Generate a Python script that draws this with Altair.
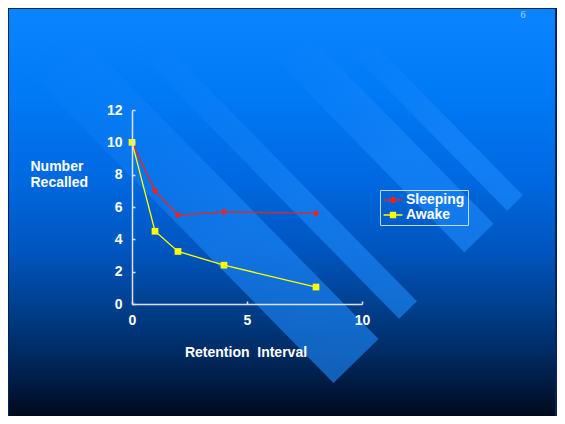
import altair as alt
import pandas as pd

# ---- data ----
intervals = [0, 1, 2, 4, 8]
sleeping = [10.0, 7.0, 5.5, 5.7, 5.6]
awake = [10.0, 4.5, 3.25, 2.4, 1.05]
series_names = ["Sleeping", "Awake"]
series_colors = ["#E8261E", "#FFFF00"]
series_shapes = ["diamond", "square"]
x_ticks = [0, 5, 10]
y_ticks = [0, 2, 4, 6, 8, 10, 12]
x_title = "Retention\u00a0 Interval"
y_title = ["Number", "Recalled"]
page_number = ["6"]

df = pd.DataFrame({
    "interval": intervals + intervals,
    "recalled": sleeping + awake,
    "series": [series_names[0]] * len(intervals) + [series_names[1]] * len(intervals),
})
dummy = pd.DataFrame({"k": [0]})

# ---- layout ----
W, H = 230, 194
PAD = {"left": 124, "top": 102, "right": 195, "bottom": 112}
OX, OY = 8 + PAD["left"], 8 + PAD["top"]  # page position of plot origin

FONT = "Liberation Sans"
AXIS_COLOR = "#DCE3EE"

bg_gradient = alt.Gradient(
    gradient="linear", x1=0, y1=0, x2=0, y2=1,
    stops=[
        alt.GradientStop(offset=0.0, color="#0A84FF"),
        alt.GradientStop(offset=0.22, color="#0079F5"),
        alt.GradientStop(offset=0.42, color="#0068E0"),
        alt.GradientStop(offset=0.59, color="#0055BE"),
        alt.GradientStop(offset=0.72, color="#00408F"),
        alt.GradientStop(offset=0.84, color="#002A62"),
        alt.GradientStop(offset=0.96, color="#00102C"),
        alt.GradientStop(offset=1.0, color="#000818"),
    ],
)

bg = alt.Chart(dummy).mark_rect(
    fill=bg_gradient, stroke="#06245A", strokeWidth=2
).encode(
    x=alt.value(-PAD["left"]), x2=alt.value(W + PAD["right"] - 1),
    y=alt.value(-PAD["top"]), y2=alt.value(H + PAD["bottom"] + 4),
)

# decorative diagonal stripes (page coordinates start, end, width)
stripe_specs = [
    ((41, 40), (356, 361), 63),
    ((138, 35), (408, 310), 25),
    ((279, 34), (479, 238), 41),
    ((350, 35), (515, 203), 22),
]
stripe_layers = []
for (sx, sy), (ex, ey), sw in stripe_specs:
    grad = alt.Gradient(
        gradient="linear", x1=0, y1=0, x2=1, y2=1,
        stops=[
            alt.GradientStop(offset=0.0, color="rgba(30,140,255,0)"),
            alt.GradientStop(offset=0.35, color="rgba(30,140,255,0.3)"),
            alt.GradientStop(offset=0.6, color="rgba(30,140,255,0.55)"),
            alt.GradientStop(offset=1.0, color="rgba(30,140,255,0.6)"),
        ],
    )
    stripe_layers.append(
        alt.Chart(dummy).mark_rule(stroke=grad, strokeWidth=sw, strokeCap="butt").encode(
            x=alt.value(sx - OX), y=alt.value(sy - OY),
            x2=alt.value(ex - OX), y2=alt.value(ey - OY),
        )
    )

xscale = alt.Scale(domain=[0, 10], nice=False, zero=False)
yscale = alt.Scale(domain=[0, 12], nice=False)


def cscale():
    return alt.Scale(domain=series_names, range=series_colors)


main_x_axis = alt.Axis(
    values=x_ticks, grid=False, ticks=False, tickSize=0, domainColor=AXIS_COLOR,
    domainWidth=1.5, labelColor="white", labelFont=FONT, labelFontWeight="bold",
    labelFontSize=14, labelPadding=9, labelFlush=False,
    title=x_title, titleColor="white", titleFont=FONT, titleFontWeight="bold",
    titleFontSize=14, titleAlign="center", titleBaseline="alphabetic",
    titleX=245.5 - OX, titleY=52.5, zindex=1,
)
main_y_axis = alt.Axis(
    values=y_ticks, grid=False, ticks=False, tickSize=0, domainColor=AXIS_COLOR,
    domainWidth=1.5, labelColor="white", labelFont=FONT, labelFontWeight="bold",
    labelFontSize=14, labelPadding=10, labelFlush=False,
    title=y_title, titleColor="white", titleFont=FONT, titleFontWeight="bold",
    titleFontSize=14, titleAngle=0, titleAlign="left", titleBaseline="alphabetic",
    titleX=30 - OX, titleY=170 - OY, titleLineHeight=16, zindex=1,
)
tick_x_axis = alt.Axis(
    orient="top", offset=-H, values=x_ticks, grid=False, domain=False, labels=False,
    ticks=True, tickSize=3, tickColor=AXIS_COLOR, tickWidth=1.5, title=None, zindex=1,
)
tick_y_axis = alt.Axis(
    orient="right", offset=-W, values=y_ticks, grid=False, domain=False, labels=False,
    ticks=True, tickSize=3, tickColor=AXIS_COLOR, tickWidth=1.5, title=None, zindex=1,
)

# legend symbols: a short line with the marker on it
legend_paths = [
    "M-1.5,0H1.5M-0.5,0L0,-0.5L0.5,0L0,0.5ZM-0.3,0L0,-0.3L0.3,0L0,0.3Z",
    "M-1.5,0H1.5M-0.4,-0.4H0.4V0.4H-0.4ZM-0.2,-0.2H0.2V0.2H-0.2Z",
]

legend_def = alt.Legend(
    title=None, orient="none", legendX=248, legendY=80, zindex=1,
    labelColor="white", labelFont=FONT, labelFontWeight="bold", labelFontSize=14,
    labelOffset=6, symbolOffset=3, symbolSize=160, symbolStrokeWidth=1.3,
    symbolOpacity=1, rowPadding=1, padding=3, strokeColor="#C8D8F2",
)

base = alt.Chart(df)

lines = base.mark_line(strokeWidth=1.3).encode(
    x=alt.X("interval:Q", scale=xscale, axis=main_x_axis),
    y=alt.Y("recalled:Q", scale=yscale, axis=main_y_axis),
    color=alt.Color("series:N", scale=cscale(), legend=None),
)

points = base.mark_point(filled=True, size=45, opacity=1).encode(
    x=alt.X("interval:Q", axis=None),
    y=alt.Y("recalled:Q", axis=None),
    color=alt.Color("series:N", scale=cscale(), legend=None),
    shape=alt.Shape("series:N", scale=alt.Scale(domain=series_names, range=series_shapes), legend=None),
)

legend_layer = base.transform_filter("false").mark_point(filled=False, strokeWidth=1.3).encode(
    x=alt.X("interval:Q", axis=None),
    y=alt.Y("recalled:Q", axis=None),
    color=alt.Color("series:N", scale=cscale(), legend=legend_def),
    shape=alt.Shape("series:N", scale=alt.Scale(domain=series_names, range=legend_paths), legend=legend_def),
)

ghost = base.mark_point(opacity=0).encode(
    x=alt.X("interval:Q", axis=tick_x_axis),
    y=alt.Y("recalled:Q", axis=tick_y_axis),
)

page_text = alt.Chart(pd.DataFrame({"label": page_number})).mark_text(
    font="Liberation Serif", fontSize=10, color="#B8D4FF"
).encode(text="label:N", x=alt.value(523 - OX), y=alt.value(15 - OY))

chart = alt.layer(
    bg, *stripe_layers, lines, points, legend_layer, ghost, page_text
).resolve_axis(
    x="independent", y="independent"
).resolve_scale(
    color="independent", shape="independent"
).properties(
    width=W, height=H, padding=PAD, autosize=alt.AutoSizeParams(type="none")
).configure_view(stroke=None)

chart.save("out.html", embed_options={"renderer": "svg", "actions": False})
